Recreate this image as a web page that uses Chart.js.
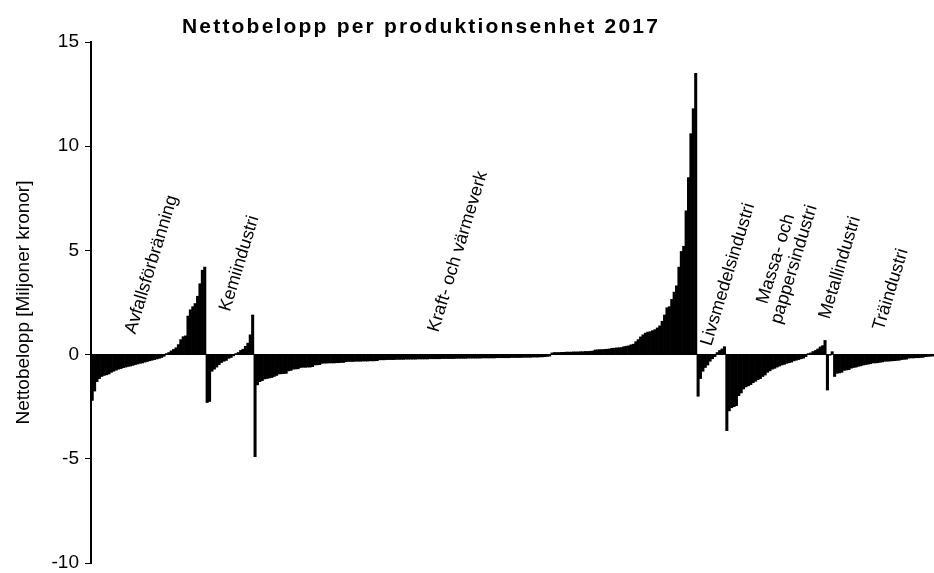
<!DOCTYPE html>
<html>
<head>
<meta charset="utf-8">
<script src="https://cdn.jsdelivr.net/npm/chart.js@4.4.0/dist/chart.umd.min.js"></script>
<style>
  html, body { margin: 0; padding: 0; background: #fff; }
  #wrap { width: 934px; height: 573px; }
</style>
</head>
<body>
<div id="wrap"><canvas id="netChart" width="934" height="573"></canvas></div>
<script>
// Nettobelopp (Mkr) per unit, sorted within each branch
const avfall = [
  -2.2, -1.75, -1.3, -1.15, -1.05, -1.0, -0.97, -0.93, -0.85, -0.8,
  -0.75, -0.7, -0.67, -0.63, -0.6, -0.57, -0.55, -0.52, -0.48, -0.45,
  -0.42, -0.4, -0.36, -0.33, -0.3, -0.27, -0.24, -0.21, -0.18, -0.14,
  -0.08, 0.05, 0.1, 0.18, 0.25, 0.33, 0.48, 0.72, 0.86, 0.9,
  1.85, 2.15, 2.3, 2.45, 2.8, 3.4, 4.05, 4.2
];
const kemi = [
  -2.3, -2.25, -0.8, -0.7, -0.6, -0.48, -0.38, -0.32, -0.28, -0.18,
  -0.14, -0.06, 0.05, 0.1, 0.2, 0.26, 0.4, 0.55, 0.95, 1.9
];
const kraft = [
  -4.9, -1.45, -1.3, -1.25, -1.17, -1.15, -1.12, -1.1, -1.05, -1.0,
  -0.93, -0.92, -0.91, -0.9, -0.78, -0.76, -0.7, -0.69, -0.68, -0.62,
  -0.61, -0.61, -0.6, -0.6, -0.58, -0.5, -0.49, -0.48,
  -0.42, -0.41, -0.41, -0.4, -0.4, -0.4, -0.39, -0.39, -0.38, -0.38,
  -0.34, -0.33, -0.33, -0.33, -0.32, -0.32, -0.32, -0.31, -0.31, -0.31, -0.3, -0.3, -0.3, -0.29,
  -0.25, -0.25, -0.25, -0.24, -0.24, -0.24, -0.24, -0.23, -0.23, -0.23,
  -0.23, -0.22, -0.22, -0.22, -0.22, -0.22, -0.21, -0.21, -0.21, -0.21,
  -0.21, -0.2, -0.2, -0.2, -0.2, -0.2, -0.19, -0.19, -0.19,
  -0.19, -0.19, -0.19, -0.18, -0.18, -0.18, -0.18, -0.18, -0.17, -0.17,
  -0.17, -0.17, -0.17, -0.17, -0.16, -0.16, -0.16, -0.16, -0.16, -0.16,
  -0.15, -0.15, -0.15, -0.15, -0.15, -0.15, -0.14, -0.14, -0.14, -0.14,
  -0.14, -0.13, -0.13, -0.13, -0.13, -0.12, -0.12, -0.12, -0.11, -0.11,
  -0.1, -0.09, -0.07,
  0.08, 0.1, 0.1, 0.1, 0.11, 0.11, 0.12, 0.12, 0.12, 0.13,
  0.13, 0.13, 0.14, 0.14, 0.15, 0.15, 0.16, 0.17, 0.22, 0.23,
  0.24, 0.24, 0.25, 0.26, 0.27, 0.3, 0.31, 0.32, 0.33, 0.34,
  0.38, 0.4, 0.42, 0.47, 0.5, 0.62, 0.72, 0.85, 0.95, 1.03,
  1.08, 1.1, 1.15, 1.2, 1.28, 1.38, 1.6, 1.9, 2.25, 2.3,
  2.65, 3.0, 3.3, 4.2, 4.95, 5.2, 6.9, 8.5, 10.6, 11.8,
  13.5
];
const livsmedel = [-2.0, -1.15, -0.8, -0.62, -0.5, -0.32, -0.2, -0.1, 0.1, 0.2, 0.27, 0.38];
const massa = [
  -3.65, -2.7, -2.55, -2.5, -2.45, -1.97, -1.84, -1.65, -1.55, -1.5,
  -1.44, -1.35, -1.28, -1.2, -1.15, -1.05, -0.98, -0.85, -0.78, -0.7,
  -0.66, -0.6, -0.55, -0.5, -0.47, -0.42, -0.39, -0.36, -0.3, -0.27,
  -0.24, -0.2, -0.17, -0.1, 0.05, 0.08, 0.15, 0.2, 0.27, 0.37,
  0.43, 0.68
];
const metall = [-1.7, -0.03, 0.14];
const tra = [
  -1.05, -0.9, -0.88, -0.85, -0.76, -0.74, -0.72, -0.65, -0.62, -0.6,
  -0.56, -0.54, -0.5, -0.48, -0.46, -0.44, -0.4, -0.4, -0.39, -0.37,
  -0.35, -0.32, -0.32, -0.31, -0.3, -0.29, -0.28, -0.27, -0.24, -0.23,
  -0.22, -0.17, -0.16, -0.16, -0.15, -0.15, -0.14, -0.13, -0.1, -0.09,
  -0.08, -0.07
];

const groupNames = [
  'Avfallsförbränning', 'Kemiindustri', 'Kraft- och värmeverk', 'Livsmedelsindustri',
  'Massa- och\npappersindustri', 'Metallindustri', 'Träindustri'
];
const groupValues = [avfall, kemi, kraft, livsmedel, massa, metall, tra];
const yTicks = [-10, -5, 0, 5, 10, 15];
const chartTitle = 'Nettobelopp per produktionsenhet 2017';
const yTitle = 'Nettobelopp [Miljoner kronor]';

// where each branch name sits: [category index, y value]
const labelAnchors = [[24.8, 4.32], [61.5, 4.37], [152.7, 4.94], [265.5, 3.84], [289.3, 4.46], [312.2, 4.17], [333.5, 3.12]];

// Flatten groups into one category axis
const labels = [];
const values = [];
groupValues.forEach((arr, g) => {
  arr.forEach((v, i) => {
    labels.push(groupNames[g].replace('\n', ' ') + ' ' + (i + 1));
    values.push(v);
  });
});

const FONT = '"Liberation Sans", Arial, sans-serif';

// Draw title and rotated branch names
const textPlugin = {
  id: 'textPlugin',
  afterDatasetsDraw(chart) {
    const { ctx, scales: { x, y } } = chart;
    ctx.save();
    ctx.fillStyle = '#000';
    ctx.textAlign = 'center';
    ctx.textBaseline = 'middle';
    ctx.font = 'bold 21px ' + FONT;
    ctx.letterSpacing = '2.2px';
    ctx.fillText(chartTitle, 421, 27);

    ctx.font = '18px ' + FONT;
    ctx.letterSpacing = '0px';
    groupNames.forEach((name, i) => {
      const px = x.getPixelForValue(labelAnchors[i][0]);
      const py = y.getPixelForValue(labelAnchors[i][1]);
      const lines = name.split('\n');
      ctx.save();
      ctx.translate(px, py);
      ctx.rotate(-73 * Math.PI / 180);
      lines.forEach((ln, k) => {
        ctx.fillText(ln, 0, (k - (lines.length - 1) / 2) * 19);
      });
      ctx.restore();
    });
    ctx.restore();
  }
};

new Chart(document.getElementById('netChart'), {
  type: 'bar',
  data: {
    labels: labels,
    datasets: [{
      data: values,
      backgroundColor: '#000',
      borderWidth: 0,
      categoryPercentage: 1.0,
      barPercentage: 1.0
    }]
  },
  options: {
    responsive: false,
    animation: false,
    layout: { padding: { top: 42, bottom: 10, left: 0, right: 0 } },
    plugins: {
      legend: { display: false },
      tooltip: { enabled: false },
      title: { display: false }
    },
    scales: {
      x: {
        display: false
      },
      y: {
        min: -10,
        max: 15,
        afterBuildTicks: s => { s.ticks = yTicks.map(v => ({ value: v })); },
        afterFit: s => {
          s.width = 91;
          // let the -10 label hang below the plot like the original
          s.paddingTop = 0;
          s.paddingBottom = 0;
        },
        ticks: {
          color: '#000',
          padding: 6,
          font: { size: 19, family: FONT }
        },
        grid: {
          color: c => (c.tick && c.tick.value === 0 ? '#000' : 'rgba(0,0,0,0)'),
          tickColor: '#000',
          tickLength: 6,
          lineWidth: 1
        },
        border: { display: true, color: '#000', width: 2 },
        title: {
          display: true,
          text: yTitle,
          color: '#000',
          font: { size: 19, family: FONT },
          padding: { top: 12, bottom: 0 }
        }
      }
    }
  },
  plugins: [textPlugin]
});
</script>
</body>
</html>
